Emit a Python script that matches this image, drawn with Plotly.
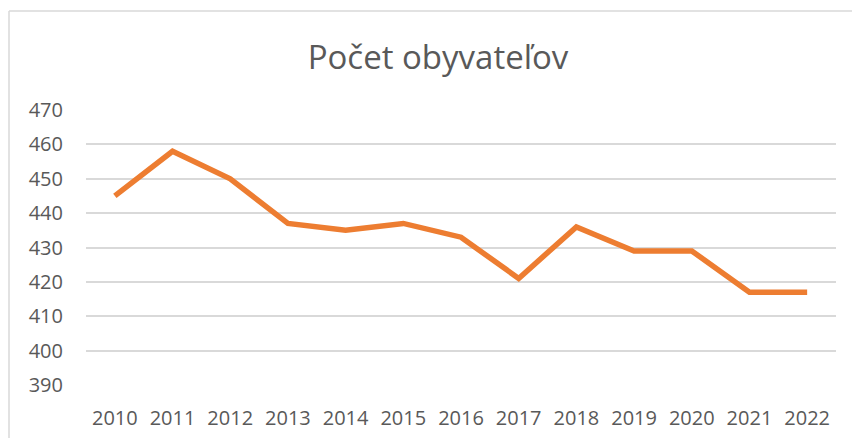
import plotly.graph_objects as go

years = ["2010", "2011", "2012", "2013", "2014", "2015", "2016",
         "2017", "2018", "2019", "2020", "2021", "2022"]
population = [445, 458, 450, 437, 435, 437, 433, 421, 436, 429, 429, 417, 417]
y_ticks = [390, 400, 410, 420, 430, 440, 450, 460, 470]
title_text = "Počet obyvateľov"

W, H = 852, 438
L, R, T, B = 86, 16, 110, 53
pw, ph = W - L - R, H - T - B

def px_x(p):
    return (p - L) / pw

def px_y(p):
    return (H - B - p) / ph

fig = go.Figure()
fig.add_trace(go.Scatter(
    x=years, y=population, mode="lines",
    line=dict(color="#ED7D31", width=5.5, shape="linear"),
    hoverinfo="x+y", showlegend=False,
))

grey = "#595959"
fig.update_layout(
    width=W, height=H,
    margin=dict(l=L, r=R, t=T, b=B, pad=0, autoexpand=False),
    paper_bgcolor="white", plot_bgcolor="white",
    font=dict(family="Open Sans, Liberation Sans, sans-serif", color=grey, size=20),
    title=dict(text=title_text, x=438 / W, xanchor="center", xref="container",
               y=1 - 57 / H, yanchor="middle", yref="container",
               font=dict(size=33, color=grey, family="Open Sans, sans-serif")),
    xaxis=dict(type="category", showgrid=False, zeroline=False, showline=False,
               ticks="", tickfont=dict(size=20, color=grey), automargin=False,
               ticklabelstandoff=19, range=[-0.5, len(years) - 0.5]),
    yaxis=dict(range=[390, 470], tickvals=y_ticks, showgrid=True,
               gridcolor="#d9d9d9", gridwidth=1.5, zeroline=False, showline=False,
               ticks="", tickfont=dict(size=20, color=grey), automargin=False,
               ticklabelstandoff=22),
    shapes=[
        dict(type="line", xref="paper", yref="paper",
             x0=px_x(9), x1=px_x(9), y0=px_y(11), y1=px_y(H + 5),
             line=dict(color="#d9d9d9", width=1.5)),
        dict(type="line", xref="paper", yref="paper",
             x0=px_x(9), x1=px_x(W + 5), y0=px_y(11), y1=px_y(11),
             line=dict(color="#d9d9d9", width=1.5)),
    ],
)

fig.write_html(
    "out.html",
    config={"displayModeBar": False},
    post_script="document.body.style.margin='0';document.body.style.overflow='hidden';",
)
